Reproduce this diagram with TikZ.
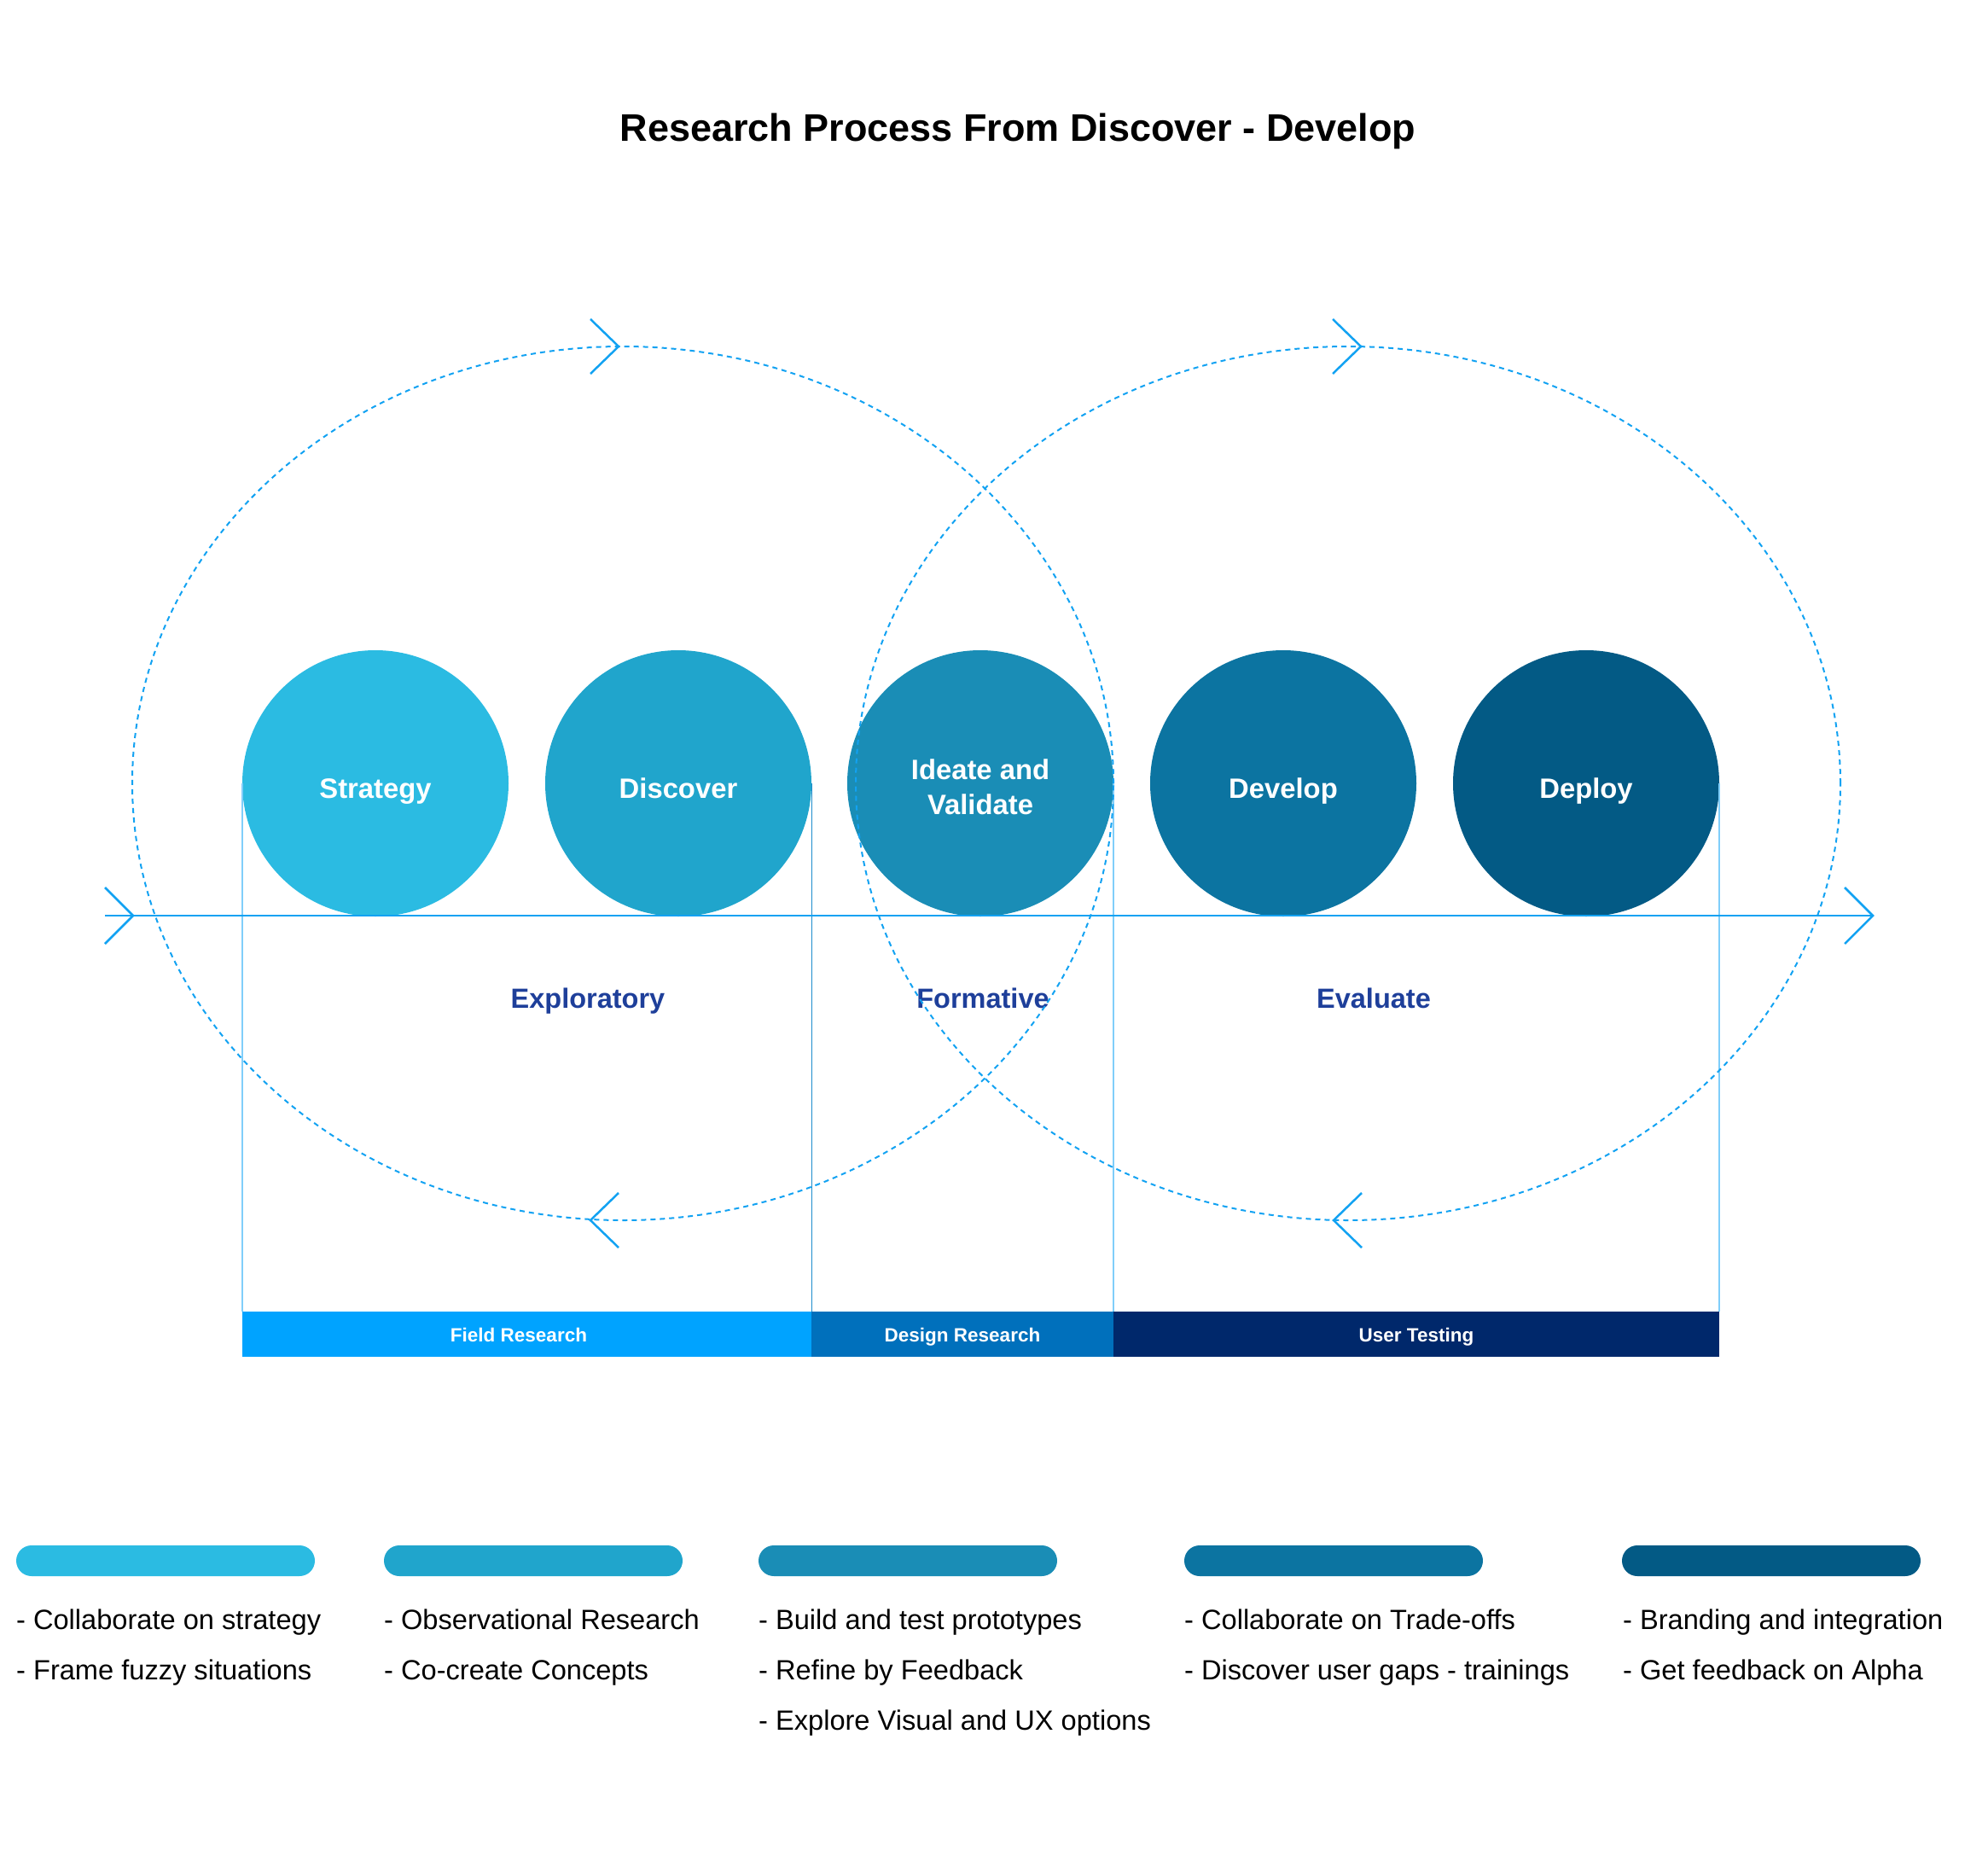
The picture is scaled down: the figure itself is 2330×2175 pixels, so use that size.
\documentclass[tikz,border=0pt]{standalone}
\usepackage{fontspec}
\setmainfont{Liberation Sans}
\begin{document}
\begin{tikzpicture}[x=1pt,y=-1pt,
  stage/.style={circle, minimum size=312pt, inner sep=0pt, text=white, align=center,
    text height=40pt, text depth=6pt,
    font=\bfseries\fontsize{32.8}{41}\selectfont},
  phase/.style={anchor=base, inner sep=0pt, text=labblue, font=\bfseries\fontsize{32.5}{38}\selectfont},
  barbox/.style={rectangle, minimum height=53pt, inner sep=0pt},
  barlabel/.style={anchor=base, inner sep=0pt, text=white, font=\bfseries\fontsize{22.5}{26}\selectfont},
  pill/.style={rectangle, rounded corners=18pt, minimum width=350pt, minimum height=36pt, inner sep=0pt},
  item/.style={anchor=base west, inner sep=0pt, font=\fontsize{32.6}{38}\selectfont},
  loop/.style={draw=loopblue, line width=2pt, dash pattern=on 6pt off 5pt},
  chev/.style={draw=loopblue, line width=2.5pt},
  vline/.style={draw=lightblue, line width=2pt},
]
\definecolor{cA}{HTML}{2BBBE2}
\definecolor{cB}{HTML}{20A5CC}
\definecolor{cC}{HTML}{1A8DB6}
\definecolor{cD}{HTML}{0C74A1}
\definecolor{cE}{HTML}{035A85}
\definecolor{barA}{HTML}{00A3FF}
\definecolor{barB}{HTML}{0070BC}
\definecolor{barC}{HTML}{00286B}
\definecolor{labblue}{HTML}{1E3F9A}
\definecolor{loopblue}{HTML}{12A2F2}
\definecolor{lightblue}{HTML}{80CEFA}
\definecolor{midblue}{HTML}{1E8CCC}
\useasboundingbox (0,0) rectangle (2330,2175);

% title
\node[font=\bfseries\fontsize{45}{54}\selectfont] (title) at (1193,154) {Research Process From Discover - Develop};

% stage circles
\node[stage, fill=cA] (strategy) at (440,918) {Strategy};
\node[stage, fill=cB] (discover) at (795,918) {Discover};
\node[stage, fill=cC, text height=80pt, text depth=8pt] (ideate) at (1149,918) {Ideate and\\Validate};
\node[stage, fill=cD] (develop) at (1504,918) {Develop};
\node[stage, fill=cE] (deploy) at (1859,918) {Deploy};

% bars
\node[barbox, fill=barA, minimum width=667pt] (field) at (617.5,1563.5) {};
\node[barbox, fill=barB, minimum width=354pt] (design) at (1128,1563.5) {};
\node[barbox, fill=barC, minimum width=710pt] (testing) at (1660,1563.5) {};
\node[barlabel] (fieldlab) at (608,1572) {Field Research};
\node[barlabel] (designlab) at (1128,1572) {Design Research};
\node[barlabel] (testinglab) at (1660,1572) {User Testing};

% vertical lines
\draw[vline] (strategy.west) -- (field.north west);
\draw[draw=midblue, line width=1.3pt] (discover.east) -- (field.north east);
\draw[vline] (ideate.east) -- (design.north east);
\draw[vline] (deploy.east) -- (testing.north east);

% axis
\coordinate (axL) at (123,1073);
\coordinate (axR) at (2195,1073);
\draw[loopblue, line width=2pt] (axL) -- (axR);
\draw[chev] (123,1040) -- (156,1073) -- (123,1106);
\draw[chev] (2162,1040) -- (2195,1073) -- (2162,1106);

% phase labels
\node[phase] (explo) at (689,1181) {Exploratory};
\node[phase] (forma) at (1152,1181) {Formative};
\node[phase] (evalu) at (1610,1181) {Evaluate};

% loops
\draw[loop] (730,918) ellipse [x radius=575pt, y radius=512pt];
\draw[loop] (1580,918) ellipse [x radius=577pt, y radius=512pt];
\draw[chev] (692,374) -- (725,406) -- (692,438);
\draw[chev] (725,1398) -- (692,1430) -- (725,1462);
\draw[chev] (1562,374) -- (1595,406) -- (1562,438);
\draw[chev] (1596,1398) -- (1563,1430) -- (1596,1462);

% pills
\node[pill, fill=cA] (p1) at (194,1829) {};
\node[pill, fill=cB] (p2) at (625,1829) {};
\node[pill, fill=cC] (p3) at (1064,1829) {};
\node[pill, fill=cD] (p4) at (1563,1829) {};
\node[pill, fill=cE] (p5) at (2076,1829) {};

% items
\node[item] (t11) at (19,1909) {- Collaborate on strategy};
\node[item] (t12) at (19,1968) {- Frame fuzzy situations};
\node[item] (t21) at (450,1909) {- Observational Research};
\node[item] (t22) at (450,1968) {- Co-create Concepts};
\node[item] (t31) at (889,1909) {- Build and test prototypes};
\node[item] (t32) at (889,1968) {- Refine by Feedback};
\node[item] (t33) at (889,2027) {- Explore Visual and UX options};
\node[item] (t41) at (1388,1909) {- Collaborate on Trade-offs};
\node[item] (t42) at (1388,1968) {- Discover user gaps - trainings};
\node[item] (t51) at (1902,1909) {- Branding and integration};
\node[item] (t52) at (1902,1968) {- Get feedback on Alpha};
\end{tikzpicture}
\end{document}
